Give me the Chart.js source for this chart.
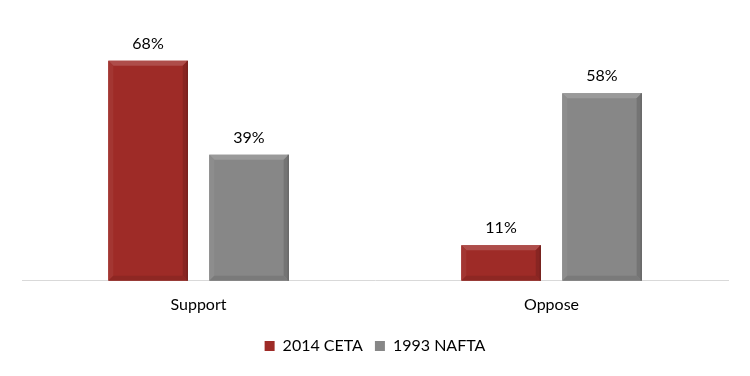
<!DOCTYPE html>
<html lang="en-US">
<head>
<meta charset="UTF-8">
<title>CETA vs NAFTA</title>
<script src="https://cdn.jsdelivr.net/npm/chart.js@4.4.1/dist/chart.umd.min.js"></script>
<style>
  html, body { margin: 0; padding: 0; background: #fff; }
  #wrap { width: 750px; height: 376px; }
</style>
</head>
<body>
<div id="wrap"><canvas id="myChart"></canvas></div>
<script>
    // chart data
    var categories = ['Support', 'Oppose'];
    var seriesNames = ['2014 CETA', '1993 NAFTA'];
    var ceta = [68, 11];
    var nafta = [39, 58];
    var colors = ['#9e2b27', '#878787'];

    var FONT = 'Lato, "Open Sans", sans-serif';

    function shade(hex, amt) {
        var n = parseInt(hex.slice(1), 16);
        var r = (n >> 16) & 255, g = (n >> 8) & 255, b = n & 255;
        function f(c) { return Math.max(0, Math.min(255, Math.round(amt > 0 ? c + (255 - c) * amt : c * (1 + amt)))); }
        return 'rgb(' + f(r) + ',' + f(g) + ',' + f(b) + ')';
    }

    // soft bevel edges on the bars, plus % labels above them
    var bevelPlugin = {
        id: 'bevel',
        afterDatasetsDraw: function (chart) {
            var ctx = chart.ctx;
            chart.data.datasets.forEach(function (ds, di) {
                var meta = chart.getDatasetMeta(di);
                var base = ds.backgroundColor;
                meta.data.forEach(function (bar, i) {
                    var x0 = bar.x - bar.width / 2, x1 = bar.x + bar.width / 2;
                    var y0 = bar.y, y1 = bar.base;
                    var b = Math.min(5, (y1 - y0) / 3);
                    ctx.save();
                    ctx.fillStyle = shade(base, 0.16);
                    ctx.beginPath();
                    ctx.moveTo(x0, y0); ctx.lineTo(x1, y0); ctx.lineTo(x1 - b, y0 + b); ctx.lineTo(x0 + b, y0 + b); ctx.closePath(); ctx.fill();
                    ctx.fillStyle = shade(base, 0.05);
                    ctx.beginPath();
                    ctx.moveTo(x0, y0); ctx.lineTo(x0 + b, y0 + b); ctx.lineTo(x0 + b, y1 - b); ctx.lineTo(x0, y1); ctx.closePath(); ctx.fill();
                    ctx.fillStyle = shade(base, -0.14);
                    ctx.beginPath();
                    ctx.moveTo(x1, y0); ctx.lineTo(x1 - b, y0 + b); ctx.lineTo(x1 - b, y1 - b); ctx.lineTo(x1, y1); ctx.closePath(); ctx.fill();
                    ctx.fillStyle = shade(base, -0.1);
                    ctx.beginPath();
                    ctx.moveTo(x0, y1); ctx.lineTo(x0 + b, y1 - b); ctx.lineTo(x1 - b, y1 - b); ctx.lineTo(x1, y1); ctx.closePath(); ctx.fill();
                    ctx.strokeStyle = shade(base, -0.3);
                    ctx.lineWidth = 1;
                    ctx.beginPath();
                    ctx.moveTo(x1 - 0.5, y0); ctx.lineTo(x1 - 0.5, y1);
                    ctx.stroke();
                    // label
                    ctx.fillStyle = '#000';
                    ctx.font = '16px ' + FONT;
                    ctx.textAlign = 'center';
                    ctx.textBaseline = 'bottom';
                    ctx.fillText(ds.data[i] + '%', bar.x, y0 - 9);
                    ctx.restore();
                });
            });
        }
    };

    var ctx = document.getElementById('myChart').getContext('2d');
    var myChart = new Chart(ctx, {
        type: 'bar',
        data: {
            labels: categories,
            datasets: [{
                label: seriesNames[0],
                data: ceta,
                backgroundColor: colors[0]
            }, {
                label: seriesNames[1],
                data: nafta,
                backgroundColor: colors[1]
            }]
        },
        options: {
            responsive: true,
            maintainAspectRatio: false,
            animation: false,
            categoryPercentage: 0.572,
            barPercentage: 0.787,
            layout: { padding: { left: 22, right: 22, top: 22, bottom: 12 } },
            scales: {
                x: {
                    grid: { display: false },
                    border: { display: true, color: '#d9d9d9', width: 1 },
                    ticks: { color: '#000', padding: 6, font: { family: FONT, size: 16 } },
                    afterFit: function (scale) { scale.height += 6; } // extra gap above legend
                },
                y: {
                    display: false,
                    min: 0,
                    max: 80
                }
            },
            plugins: {
                legend: {
                    position: 'bottom',
                    labels: {
                        color: '#000',
                        boxWidth: 10,
                        boxHeight: 10,
                        padding: 12,
                        font: { family: FONT, size: 16 }
                    }
                },
                tooltip: { enabled: false }
            }
        },
        plugins: [bevelPlugin]
    });
</script>
</body>
</html>
